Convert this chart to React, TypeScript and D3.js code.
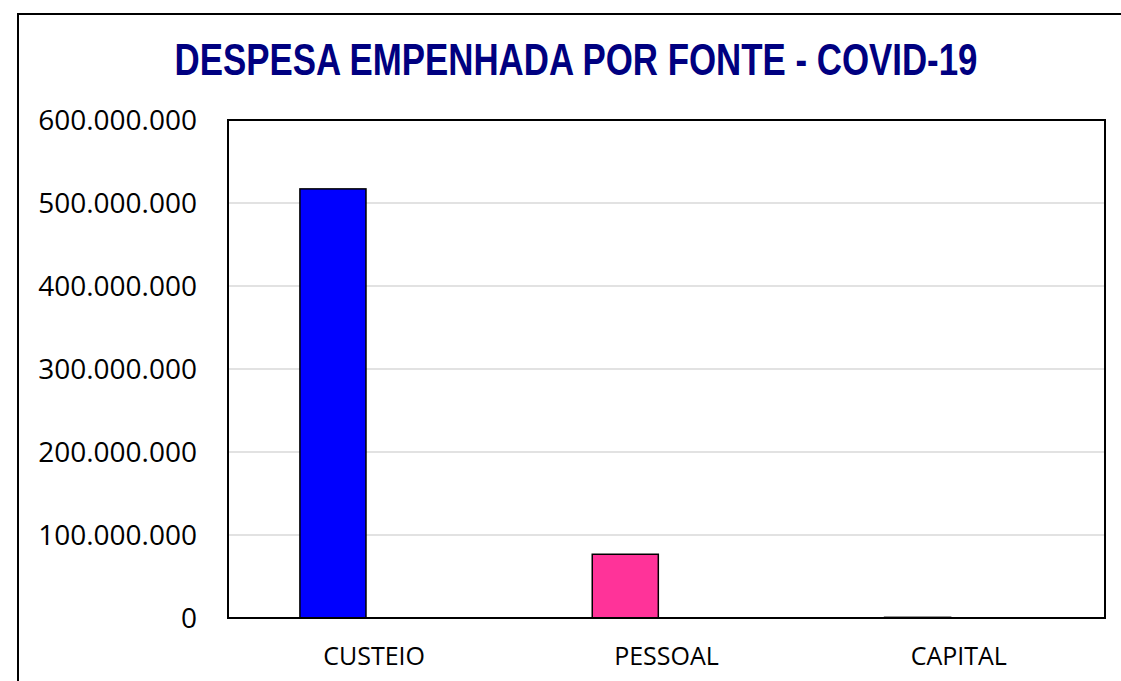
import React from "react";
import * as d3 from "d3";

const categories: string[] = ["CUSTEIO", "PESSOAL", "CAPITAL"];
const values: number[] = [517000000, 76800000, 800000];
const barColors: string[] = ["#0000ff", "#ff3399", "#a5a5a5"];
const yTicks: number[] = [0, 100000000, 200000000, 300000000, 400000000, 500000000, 600000000];
const title = "DESPESA EMPENHADA POR FONTE - COVID-19";

const W = 1121;
const H = 681;
const plot = { left: 228, top: 120, right: 1105, bottom: 618 };

const fmt = (v: number) => d3.format(",")(v).replace(/,/g, ".");

export default function App() {
  const x = d3.scaleBand<string>().domain(categories).range([plot.left, plot.right]).padding(0);
  const y = d3.scaleLinear().domain([0, 600000000]).range([plot.bottom, plot.top]);
  const bw = x.bandwidth();
  const barOff = bw * 0.246;
  const barW = bw * 0.226;

  return (
    <svg
      width={W}
      height={H}
      style={{ position: "absolute", left: 0, top: 0, background: "#fff" }}
    >
      <rect x={0} y={0} width={W} height={H} fill="#fff" />
      {/* outer chart border */}
      <path d={`M18,${H + 5} L18,14 L${W + 5},14`} fill="none" stroke="#000" strokeWidth={2} />
      {/* title */}
      <text
        x={576}
        y={75}
        textAnchor="middle"
        fontFamily="'Liberation Sans Narrow', 'Arial Narrow', 'Liberation Sans', sans-serif"
        fontWeight="bold"
        fontSize={44}
        fill="#000080"
        textLength={803}
        lengthAdjust="spacingAndGlyphs"
      >
        {title}
      </text>
      {/* gridlines */}
      {yTicks.map((t) =>
        t > 0 && t < 600000000 ? (
          <line key={"g" + t} x1={plot.left} x2={plot.right} y1={y(t)} y2={y(t)} stroke="#d9d9d9" strokeWidth={1.5} />
        ) : null
      )}
      {/* bars */}
      {categories.map((c, i) => (
        <rect
          key={c}
          x={(x(c) as number) + barOff}
          y={y(values[i])}
          width={barW}
          height={Math.max(0, y(0) - y(values[i]))}
          fill={barColors[i]}
          stroke="#000"
          strokeWidth={1.5}
        />
      ))}
      {/* plot frame */}
      <rect
        x={plot.left}
        y={plot.top}
        width={plot.right - plot.left}
        height={plot.bottom - plot.top}
        fill="none"
        stroke="#000"
        strokeWidth={2}
      />
      {/* y tick labels */}
      {yTicks.map((t) => (
        <text
          key={"t" + t}
          x={197}
          y={y(t)}
          dy="0.35em"
          textAnchor="end"
          fontFamily="'Open Sans', sans-serif"
          fontSize={28}
          fill="#000"
        >
          {fmt(t)}
        </text>
      ))}
      {/* category labels */}
      {categories.map((c) => (
        <text
          key={"c" + c}
          x={(x(c) as number) + bw / 2}
          y={665}
          textAnchor="middle"
          fontFamily="'Open Sans', sans-serif"
          fontSize={25}
          fill="#000"
        >
          {c}
        </text>
      ))}
    </svg>
  );
}
